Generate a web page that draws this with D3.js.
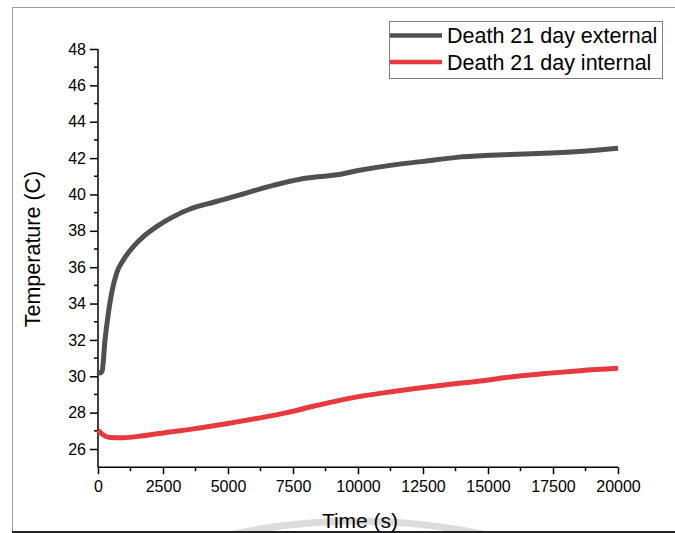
<!DOCTYPE html>
<html><head><meta charset="utf-8">
<script src="https://cdn.jsdelivr.net/npm/d3@7"></script>
<style>body{margin:0;background:#fff}svg{display:block}</style>
</head><body>
<script>
const seriesNames = ["Death 21 day external", "Death 21 day internal"];
const extTime = [0, 77, 160, 270, 400, 525, 718, 975, 1360, 1745, 2255, 2900, 3540, 4200, 4820, 5460, 6740, 7770, 8500, 9200, 9950, 11230, 12510, 13800, 15080, 16360, 17640, 18920, 20000];
const extTemp = [30.25, 30.18, 30.3, 32.0, 33.48, 34.58, 35.68, 36.4, 37.13, 37.68, 38.23, 38.78, 39.2, 39.48, 39.72, 39.98, 40.5, 40.84, 40.98, 41.08, 41.3, 41.6, 41.82, 42.04, 42.15, 42.22, 42.3, 42.41, 42.54];
const intTime = [0, 205, 460, 975, 1615, 2255, 3540, 4820, 6100, 7260, 8280, 9565, 10850, 12130, 13410, 14690, 15970, 17260, 18540, 20000];
const intTemp = [27.04, 26.77, 26.64, 26.62, 26.71, 26.84, 27.08, 27.36, 27.68, 28.0, 28.35, 28.76, 29.06, 29.32, 29.54, 29.74, 29.98, 30.16, 30.31, 30.44];
const xTicks = [0, 2500, 5000, 7500, 10000, 12500, 15000, 17500, 20000];
const yTicks = [26, 28, 30, 32, 34, 36, 38, 40, 42, 44, 46, 48];
const colors = ["#505050", "#e8393f"];

const W = 675, H = 533;
const svg = d3.select("body").append("svg").attr("width", W).attr("height", H);
const font = "Liberation Sans, Arial, sans-serif";

// outer frame
svg.append("line").attr("x1", 12).attr("x2", W).attr("y1", 7.5).attr("y2", 7.5).attr("stroke", "#a0a0a0").attr("stroke-width", 1);
svg.append("line").attr("x1", 12.5).attr("x2", 12.5).attr("y1", 7).attr("y2", H).attr("stroke", "#a0a0a0").attr("stroke-width", 1);
// faint watermark arc
svg.append("path").attr("d", "M225,536 Q357,506 492,536").attr("fill", "none").attr("stroke", "#dcdcdc").attr("stroke-width", 7);
svg.append("line").attr("x1", 12).attr("x2", W).attr("y1", 532).attr("y2", 532).attr("stroke", "#222").attr("stroke-width", 2);

const x = d3.scaleLinear().domain([0, 20000]).range([98, 618]);
const y = d3.scaleLinear().domain([25, 48]).range([467.2, 49]);

// y axis
const yAxis = d3.axisLeft(y).tickValues(yTicks).tickSize(8).tickPadding(4).tickFormat(d3.format("d"));
const gy = svg.append("g").attr("transform", "translate(98,0)").call(yAxis);
gy.select(".domain").attr("d", `M0,${y(48)}V${y(25)}`);
gy.selectAll(".tick line").attr("stroke", "#000").attr("stroke-width", 1.5);
gy.select(".domain").attr("stroke", "#000").attr("stroke-width", 1.5);
gy.selectAll("text").attr("font-family", font).attr("font-size", 16).attr("fill", "#000");
const yMinor = d3.range(27, 48, 2);
gy.selectAll(".minor").data(yMinor).enter().append("line").attr("class", "minor")
  .attr("x1", 0).attr("x2", -4).attr("y1", d => y(d)).attr("y2", d => y(d)).attr("stroke", "#000").attr("stroke-width", 1.5);

// x axis
const xAxis = d3.axisBottom(x).tickValues(xTicks).tickSize(7).tickPadding(6).tickFormat(d3.format("d"));
const gx = svg.append("g").attr("transform", `translate(0,${y(25)})`).call(xAxis);
gx.select(".domain").attr("d", `M${x(0)},0H${x(20000)}`).attr("stroke", "#000").attr("stroke-width", 1.5);
gx.selectAll(".tick line").attr("stroke", "#000").attr("stroke-width", 1.5);
gx.selectAll("text").attr("font-family", font).attr("font-size", 16).attr("fill", "#000");
const xMinor = d3.range(1250, 20000, 2500);
gx.selectAll(".minor").data(xMinor).enter().append("line").attr("class", "minor")
  .attr("x1", d => x(d)).attr("x2", d => x(d)).attr("y1", 0).attr("y2", 4).attr("stroke", "#000").attr("stroke-width", 1.5);

// axis titles
svg.append("text").attr("x", 360).attr("y", 528).attr("text-anchor", "middle")
  .attr("font-family", font).attr("font-size", 21).attr("fill", "#000").text("Time (s)");
svg.append("text").attr("transform", "translate(39.5,249) rotate(-90)").attr("text-anchor", "middle")
  .attr("font-family", font).attr("font-size", 21.5).attr("fill", "#000").text("Temperature (C)");

// lines
const line = d3.line().x(d => x(d[0])).y(d => y(d[1])).curve(d3.curveMonotoneX);
const extData = extTime.map((t, i) => [t, extTemp[i]]);
const intData = intTime.map((t, i) => [t, intTemp[i]]);
[extData, intData].forEach((data, i) => {
  svg.append("path").datum(data).attr("d", line).attr("fill", "none")
    .attr("stroke", colors[i]).attr("stroke-width", 5).attr("stroke-linejoin", "round");
});

// legend
const lg = svg.append("g");
lg.append("rect").attr("x", 389.5).attr("y", 21.5).attr("width", 273).attr("height", 57)
  .attr("fill", "#fff").attr("stroke", "#808080").attr("stroke-width", 1);
seriesNames.forEach((name, i) => {
  const yy = 35.5 + i * 26.5;
  lg.append("line").attr("x1", 390).attr("x2", 442).attr("y1", yy).attr("y2", yy)
    .attr("stroke", colors[i]).attr("stroke-width", 4.5);
  lg.append("text").attr("x", 447).attr("y", yy + 7.5).attr("font-family", font)
    .attr("font-size", 21.5).attr("fill", "#000").text(name);
});
</script>
</body></html>
